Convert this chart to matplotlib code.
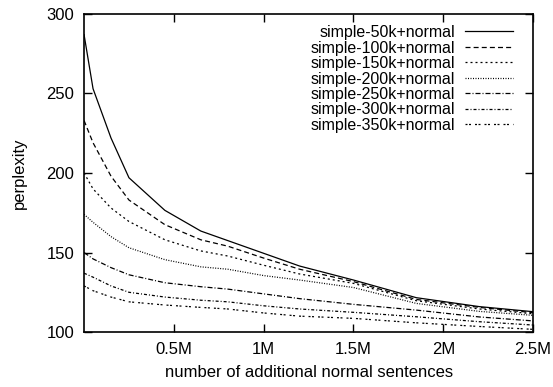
import matplotlib
matplotlib.use("Agg")
import matplotlib.pyplot as plt

plt.rcParams['font.family'] = ['Liberation Sans', 'DejaVu Sans']

# sentences added (millions)
sizes = [0, 0.05, 0.15, 0.25, 0.45, 0.65, 0.8, 1.0, 1.2, 1.5, 1.85, 2.2, 2.5]

ppl_50k = [287, 253, 222, 197, 176.5, 163.5, 157.5, 149.5, 141.5, 132.7, 121.6, 116, 112.8]
ppl_100k = [233, 219, 198, 183, 167.5, 158, 154, 146.5, 139.5, 131.7, 120.5, 115.5, 112.2]
ppl_150k = [200, 190, 178, 169.5, 158, 151, 147.8, 142, 136.5, 130.6, 119.7, 114.5, 111.5]
ppl_200k = [174, 169, 160, 153, 145.5, 141, 139.5, 135.5, 132.7, 128, 118, 113, 110.5]
ppl_250k = [150, 146, 140.5, 136, 131, 128.5, 127, 124, 121, 117.4, 113.8, 109.5, 107]
ppl_300k = [137, 134.5, 129, 125, 122, 120, 119, 116.5, 114.5, 112.4, 109.6, 106.5, 104.4]
ppl_350k = [129, 126, 122, 119, 117, 115.5, 114.5, 112, 110, 108.6, 105.8, 103.5, 101.7]

labels = ["simple-50k+normal", "simple-100k+normal", "simple-150k+normal",
          "simple-200k+normal", "simple-250k+normal", "simple-300k+normal",
          "simple-350k+normal"]
series = [ppl_50k, ppl_100k, ppl_150k, ppl_200k, ppl_250k, ppl_300k, ppl_350k]
styles = ['-', (0, (4, 2.5)), (0, (1.6, 2.4)), (0, (0.8, 1.2)),
          (0, (4, 1.6, 0.8, 1.6)), (0, (2.4, 1.6, 0.8, 1.6)),
          (0, (1.6, 1.2, 1.6, 3.2))]

fig = plt.figure(figsize=(5.53, 3.87), dpi=100)
ax = fig.add_axes([0.152, 0.142, 0.812, 0.822])

for vals, lab, ls in zip(series, labels, styles):
    ax.plot(sizes, vals, color='black', lw=0.9, linestyle=ls, label=lab)

ax.set_xlim(0, 2.5)
ax.set_ylim(100, 300)
ax.set_xticks([0.5, 1, 1.5, 2, 2.5])
ax.set_xticklabels(["0.5M", "1M", "1.5M", "2M", "2.5M"])
ax.set_yticks([100, 150, 200, 250, 300])
ax.tick_params(direction='in', length=6, width=1, top=True, right=True,
               labelsize=12, pad=7)
for s in ax.spines.values():
    s.set_linewidth(1.2)

ax.set_xlabel("number of additional normal sentences", fontsize=12, labelpad=6)
ax.set_ylabel("perplexity", fontsize=12, labelpad=14)

ax.legend(loc='upper right', bbox_to_anchor=(0.955, 0.965), frameon=False,
          markerfirst=False, fontsize=11.5, handlelength=3.0,
          handletextpad=0.6, labelspacing=0.03, borderpad=0, borderaxespad=0)

fig.savefig("out.png", dpi=100)
